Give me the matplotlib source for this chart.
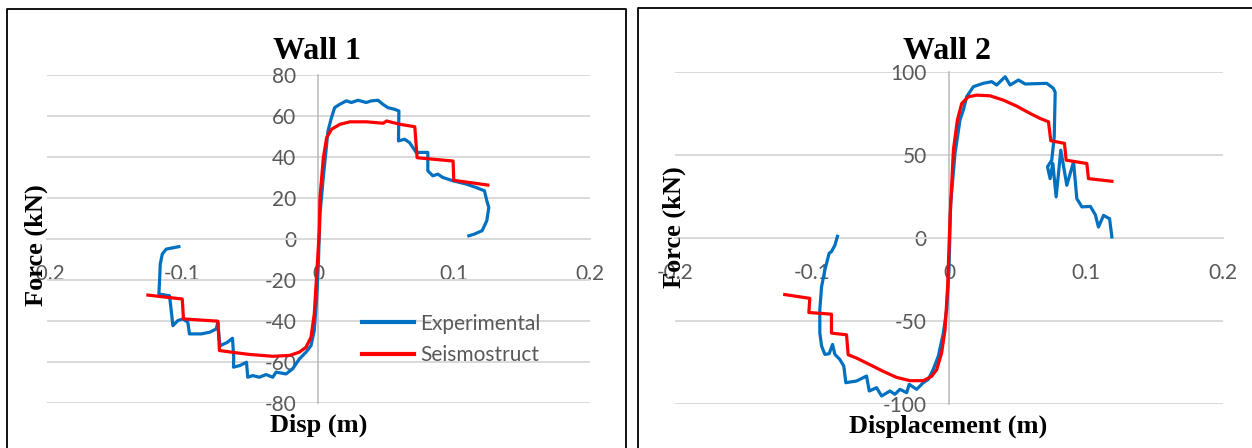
import matplotlib
matplotlib.use("Agg")
import matplotlib.pyplot as plt
from matplotlib.lines import Line2D

W, H = 1252, 448
DPI = 100

# ---------------- data ----------------
# Wall 1
w1_exp_x = [-0.1027, -0.112, -0.1149, -0.1164, -0.1169, -0.1174, -0.1096, -0.1083, -0.1071, -0.1034,
            -0.0998, -0.0961, -0.0949, -0.0863, -0.0801, -0.0752, -0.074, -0.0725, -0.0672, -0.0632,
            -0.0623, -0.0625, -0.0578, -0.0529, -0.052, -0.0483, -0.0434, -0.0385, -0.0336, -0.0311,
            -0.0238, -0.0189, -0.014, -0.0091, -0.0054, -0.003, -0.0012, 0.0,
            0.0012, 0.0034, 0.0071, 0.0096, 0.012, 0.0157, 0.0206, 0.0243, 0.0292, 0.0353, 0.039,
            0.0439, 0.0476, 0.0512, 0.0561, 0.0593, 0.059, 0.0635, 0.0671, 0.072, 0.0806, 0.0806,
            0.0843, 0.088, 0.0916, 0.099, 0.1088, 0.1162, 0.1223, 0.124, 0.1255, 0.124, 0.1206,
            0.1149, 0.1108]
w1_exp_f = [-3.7, -4.9, -7.3, -12.2, -20.3, -26.8, -27.6, -34.9, -42.2, -39.7,
            -38.9, -40.5, -46.2, -46.2, -45.4, -43.8, -40.5, -52.0, -50.4, -48.3,
            -57.7, -62.4, -61.6, -60.0, -67.3, -66.5, -67.3, -66.0, -67.3, -64.8,
            -65.7, -63.2, -58.4, -55.1, -51.9, -44.6, -28.4, -12.0,
            12.0, 28.4, 52.7, 59.0, 64.0, 65.6, 67.3, 66.5, 67.6, 66.5, 67.3,
            67.6, 65.6, 64.0, 63.2, 62.4, 47.8, 48.6, 47.0, 42.2, 42.2, 33.2,
            30.8, 31.6, 30.0, 28.4, 26.8, 25.1, 23.5, 18.7, 15.4, 8.9, 4.1,
            2.4, 1.6]
w1_num_x = [-0.1255, -0.1002, -0.0993, -0.074, -0.0728, -0.0581, -0.0507, -0.0336, -0.0213, -0.014,
            -0.0091, -0.0054, -0.003, -0.0012, 0.0007, 0.0012, 0.0037, 0.0061, 0.0098, 0.0159,
            0.0233, 0.0355, 0.0478, 0.0502, 0.06, 0.071, 0.0727, 0.0992, 0.0997, 0.1248]
w1_num_f = [-27.3, -29.2, -38.9, -40.0, -54.3, -55.6, -56.2, -57.1, -56.7, -55.1,
            -52.7, -47.8, -36.5, -17.0, 4.0, 20.3, 39.7, 49.4, 53.5, 55.9,
            57.1, 57.1, 56.4, 57.5, 55.9, 54.7, 39.6, 38.0, 28.6, 26.3]

# Wall 2
w2_exp_x = [-0.0814, -0.0833, -0.0858, -0.0875, -0.0906, -0.093, -0.0943, -0.0943, -0.093, -0.0906,
            -0.0875, -0.085, -0.0833, -0.0797, -0.0768, -0.0753, -0.0675, -0.0602, -0.0582, -0.0529,
            -0.0492, -0.0431, -0.0395, -0.0358, -0.0309, -0.029, -0.0236, -0.0188, -0.0151, -0.0115,
            -0.0078, -0.0041, -0.0017, 0.0,
            0.0012, 0.0044, 0.008, 0.0105, 0.0129, 0.0178, 0.025, 0.0312, 0.0348, 0.041, 0.0446,
            0.0507, 0.0556, 0.0714, 0.0762, 0.0775, 0.0768, 0.075, 0.0719, 0.0738, 0.0758, 0.0782,
            0.0816, 0.086, 0.0909, 0.0933, 0.097, 0.1032, 0.1068, 0.1091, 0.1128, 0.1172, 0.1189]
w2_exp_f = [1.0, -4.4, -8.2, -9.2, -19.2, -29.2, -43.0, -57.0, -65.0, -70.0,
            -69.6, -64.0, -70.0, -73.0, -77.0, -87.0, -86.0, -83.0, -92.0, -90.0,
            -95.0, -92.0, -94.0, -91.0, -93.0, -88.0, -91.0, -87.0, -85.0, -79.0,
            -71.0, -57.0, -43.0, -19.0,
            20.7, 50.8, 70.9, 77.0, 85.0, 91.0, 93.0, 94.0, 92.0, 97.0, 92.0,
            95.0, 92.6, 93.0, 90.0, 87.6, 60.8, 46.8, 42.8, 35.7, 44.8, 24.7,
            52.8, 31.7, 45.8, 23.7, 18.7, 19.0, 14.0, 6.6, 13.6, 11.6, 0.6]
w2_num_x = [-0.1199, -0.1016, -0.1023, -0.0858, -0.0858, -0.0748, -0.0736, -0.0675, -0.0577, -0.048,
            -0.0383, -0.0285, -0.0188, -0.0127, -0.009, -0.0054, -0.0029, -0.001, 0.0007, 0.0032,
            0.0061, 0.0093, 0.0141, 0.0202, 0.03, 0.0397, 0.0494, 0.0592, 0.0665, 0.0726,
            0.0743, 0.0843, 0.0855, 0.1006, 0.1018, 0.1189]
w2_num_f = [-34.0, -36.3, -44.8, -45.8, -57.2, -58.2, -70.2, -72.2, -76.2, -80.2,
            -83.8, -85.8, -85.8, -83.2, -79.2, -69.2, -55.2, -29.2, 11.0, 52.8,
            70.9, 80.9, 84.9, 85.9, 85.5, 82.9, 79.3, 74.9, 71.9, 69.9,
            58.5, 56.9, 46.8, 44.8, 35.7, 34.1]

x_ticks = [-0.2, -0.1, 0, 0.1, 0.2]
x_tick_labels = ["-0.2", "-0.1", "0", "0.1", "0.2"]
w1_y_ticks = [-80, -60, -40, -20, 0, 20, 40, 60, 80]
w2_y_ticks = [-100, -50, 0, 50, 100]
series_names = ["Experimental", "Seismostruct"]
titles = ["Wall 1", "Wall 2"]
xlabels = ["Disp (m)", "Displacement (m)"]
ylabel = "Force (kN)"

BLUE = "#0070C0"
RED = "#FF0000"
GRID = "#D9D9D9"
AXIS = "#BFBFBF"
TICK = "#595959"
TICK_FONT = "Lato"
TICK_SIZE = 15
SERIF = "Liberation Serif"

fig = plt.figure(figsize=(W / DPI, H / DPI), dpi=DPI)
fig.patch.set_facecolor("white")


def px_axes(left, top, right, bottom):
    return fig.add_axes([left / W, 1 - bottom / H, (right - left) / W, (bottom - top) / H])


def style(ax, ylim, yticks):
    ax.set_xlim(-0.2, 0.2)
    ax.set_ylim(*ylim)
    ax.set_facecolor("none")
    for s in ["top", "right"]:
        ax.spines[s].set_visible(False)
    ax.spines["left"].set_position(("data", 0))
    ax.spines["left"].set_color(AXIS)
    ax.spines["left"].set_linewidth(1.2)
    ax.spines["bottom"].set_position(("data", 0))
    ax.spines["bottom"].set_color(GRID)
    ax.spines["bottom"].set_linewidth(1.4)
    ax.set_xticks(x_ticks)
    ax.set_xticklabels(x_tick_labels)
    ax.set_yticks(yticks)
    ax.set_yticklabels([str(v) for v in yticks])
    ax.tick_params(axis="both", length=0, colors=TICK, labelsize=TICK_SIZE)
    ax.tick_params(axis="x", pad=18)
    ax.tick_params(axis="y", pad=16)
    for lab in ax.get_xticklabels() + ax.get_yticklabels():
        lab.set_fontfamily(TICK_FONT)
    ax.yaxis.grid(True, color=GRID, linewidth=1.4)
    ax.xaxis.grid(False)
    ax.set_axisbelow(True)


# Panel 1
ax1 = px_axes(46.7, 74.8, 590, 403.3)
style(ax1, (-80, 80), w1_y_ticks)
ax1.plot(w1_exp_x, w1_exp_f, color=BLUE, lw=2.3, solid_joinstyle="round", zorder=3)
ax1.plot(w1_num_x, w1_num_f, color=RED, lw=2.3, solid_joinstyle="round", zorder=4)
leg = ax1.legend([Line2D([], [], color=BLUE, lw=3), Line2D([], [], color=RED, lw=3)], series_names,
                 loc="upper left", bbox_to_anchor=(362 / W, 1 - 313.5 / H), bbox_transform=fig.transFigure,
                 frameon=False, borderpad=0, borderaxespad=0, handlelength=2.5, handletextpad=0.28,
                 labelspacing=0.55, prop={"family": TICK_FONT, "size": TICK_SIZE})
for t in leg.get_texts():
    t.set_color(TICK)

# Panel 2
ax2 = px_axes(675, 71.7, 1223, 404.3)
style(ax2, (-100, 100), w2_y_ticks)
ax2.plot(w2_exp_x, w2_exp_f, color=BLUE, lw=2.3, solid_joinstyle="round", zorder=3)
ax2.plot(w2_num_x, w2_num_f, color=RED, lw=2.3, solid_joinstyle="round", zorder=4)

# Titles and axis titles
fig.text(317 / W, 1 - 59 / H, titles[0], ha="center", va="baseline", fontsize=23,
         fontweight="bold", family=SERIF)
fig.text(947 / W, 1 - 59 / H, titles[1], ha="center", va="baseline", fontsize=23,
         fontweight="bold", family=SERIF)
fig.text(319 / W, 1 - 432 / H, xlabels[0], ha="center", va="baseline", fontsize=19,
         fontweight="bold", family=SERIF)
fig.text(948.5 / W, 1 - 433 / H, xlabels[1], ha="center", va="baseline", fontsize=19,
         fontweight="bold", family=SERIF)
fig.text(36 / W, 1 - 245 / H, ylabel, ha="center", va="center", rotation=90, fontsize=19,
         fontweight="bold", family=SERIF)
fig.text(674 / W, 1 - 227 / H, ylabel, ha="center", va="center", rotation=90, fontsize=19,
         fontweight="bold", family=SERIF)

# Panel borders
def fig_line(xs, ys):
    fig.add_artist(Line2D([x / W for x in xs], [1 - y / H for y in ys], color="black", lw=1.3,
                          transform=fig.transFigure))

fig_line([7, 7, 625.5, 625.5], [450, 9, 9, 450])
fig_line([637.5, 637.5, 1260], [450, 8, 8])

fig.savefig("out.png", dpi=DPI, facecolor="white")
